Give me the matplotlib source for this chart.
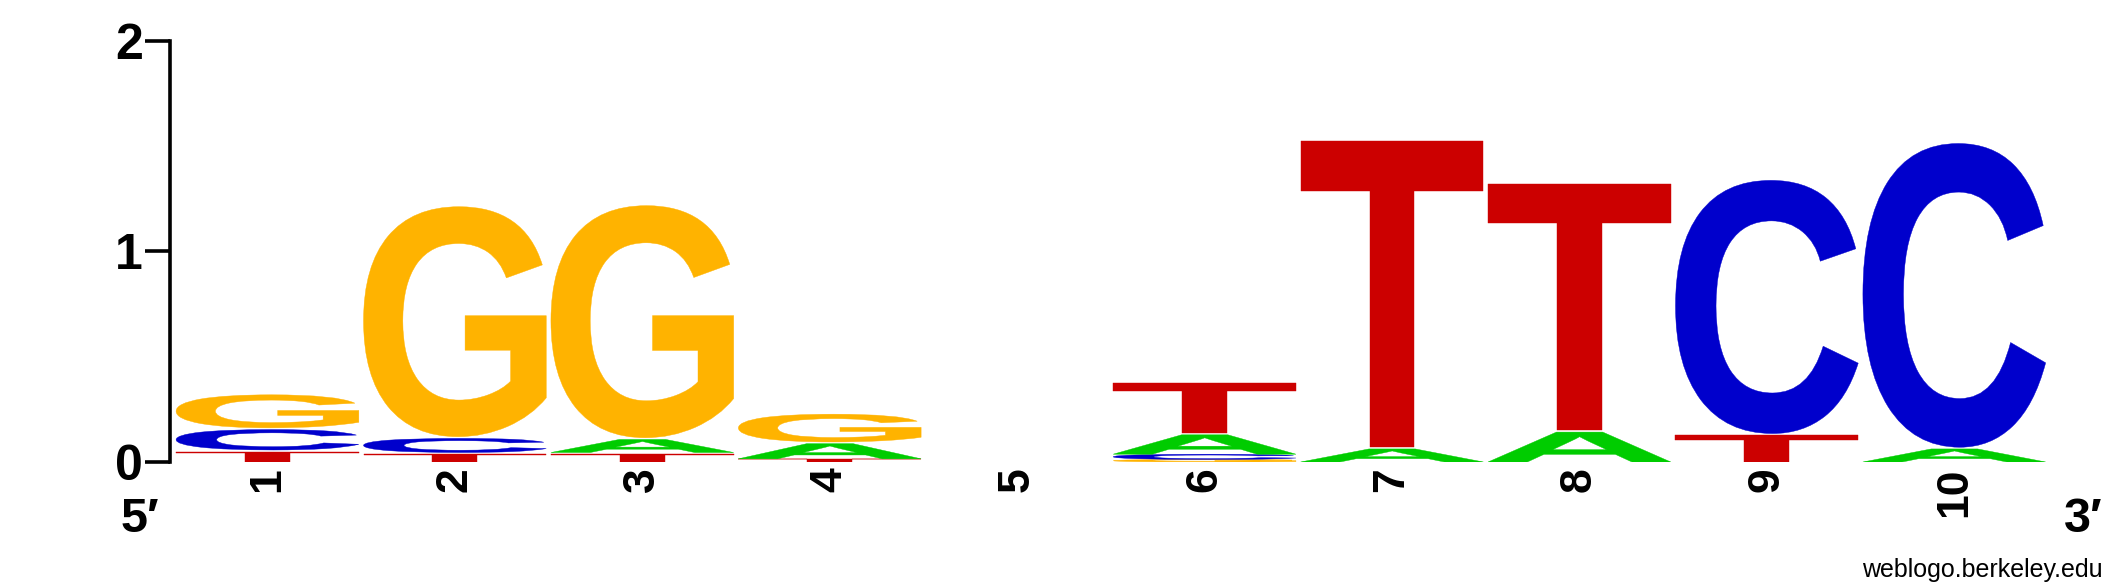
import matplotlib
matplotlib.use('Agg')
from matplotlib import pyplot as plt
from matplotlib.textpath import TextPath
from matplotlib.patches import PathPatch
from matplotlib.font_manager import FontProperties
from matplotlib.transforms import Affine2D

positions = [1, 2, 3, 4, 5, 6, 7, 8, 9, 10]
bases = ['A', 'C', 'G', 'T']
# bits per base at each position
bits_A = [0.0, 0.0, 0.07, 0.08, 0.0, 0.10, 0.07, 0.15, 0.0, 0.07]
bits_C = [0.105, 0.075, 0.0, 0.0, 0.0, 0.025, 0.0, 0.0, 1.21, 1.45]
bits_G = [0.165, 1.10, 1.11, 0.14, 0.0, 0.012, 0.0, 0.0, 0.0, 0.0]
bits_T = [0.057, 0.045, 0.045, 0.015, 0.0, 0.245, 1.46, 1.18, 0.135, 0.0]
base_colors = {'A': '#00CC00', 'C': '#0000CC', 'G': '#FFB300', 'T': '#CC0000'}

font = FontProperties(family='Liberation Sans', weight='bold')


def draw_letter(ax, letter, x, y, w, h, color):
    # stretch the glyph outline to fill the box
    tp = TextPath((0, 0), letter, size=1, prop=font)
    ext = tp.get_extents()
    tr = Affine2D().translate(-ext.x0, -ext.y0) \
        .scale(w / ext.width, h / ext.height).translate(x - w / 2, y)
    path = tr.transform_path(tp)
    ax.add_patch(PathPatch(path, facecolor=color, edgecolor=color, lw=0.3))


fig = plt.figure(figsize=(21.25, 5.88), dpi=100)
ax = fig.add_axes([170 / 2125, 126 / 588, 1878 / 2125, 421.3 / 588])

heights = {'A': bits_A, 'C': bits_C, 'G': bits_G, 'T': bits_T}
for i, pos in enumerate(positions):
    stack = sorted([(heights[b][i], b) for b in bases])
    y = 0.0
    for h, b in stack:
        if h <= 0:
            continue
        gap = 0.008 if h > 0.03 else 0.0
        draw_letter(ax, b, pos, y, 0.975, h - gap, base_colors[b])
        y += h

ax.set_xlim(0.48, 10.5)
ax.set_ylim(0, 2)
for s in ['top', 'right', 'bottom']:
    ax.spines[s].set_visible(False)
ax.spines['left'].set_linewidth(2.6)
ax.spines['left'].set_bounds(0, 2)
ax.set_yticks([0, 1, 2])
ax.set_yticklabels(['0', '1', '2'], fontsize=36, fontweight='bold', family='Liberation Sans')
ax.tick_params(axis='y', length=18, width=2.6, pad=1.5)
ax.set_xticks(positions)
ax.set_xticklabels([str(p) for p in positions], fontsize=32, fontweight='bold',
                   family='Liberation Sans', rotation=90, va='top', ha='center')
ax.tick_params(axis='x', length=0, pad=4)

fig.text(140 / 2125, 1 - 520 / 588, "5\u2032", fontsize=35, fontweight='bold',
         family=['Liberation Sans', 'DejaVu Sans'], ha='center', va='center')
fig.text(2083 / 2125, 1 - 520 / 588, "3\u2032", fontsize=35, fontweight='bold',
         family=['Liberation Sans', 'DejaVu Sans'], ha='center', va='center')
fig.text(2103 / 2125, 1 - 570 / 588, "weblogo.berkeley.edu", fontsize=18,
         family='Liberation Sans', ha='right', va='center')

fig.savefig('out.png', dpi=100)
